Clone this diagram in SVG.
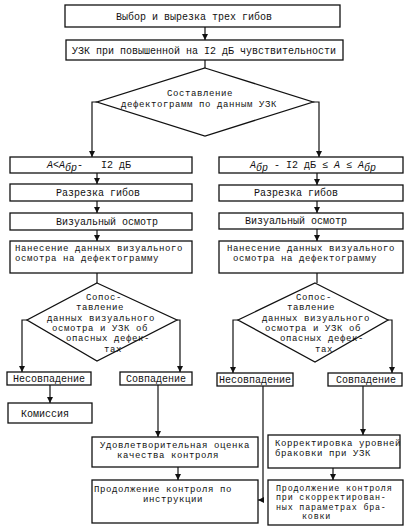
<svg xmlns="http://www.w3.org/2000/svg" width="409" height="529" viewBox="0 0 409 529">
<defs>
<marker id="ah" viewBox="0 0 8 8" refX="8" refY="4" markerWidth="6" markerHeight="6" orient="auto" markerUnits="userSpaceOnUse">
<path d="M0,0 L8,4 L0,8 z" fill="#111"/>
</marker>
<style>
rect, polygon { fill: #fff; stroke: #111; stroke-width: 1.3; }
.c path, .c line, .c polyline { fill: none; stroke: #111; stroke-width: 1.2; }
text { font-family: "Liberation Mono", "DejaVu Sans Mono", monospace; font-size: 10px; fill: #111; }
.s { font-size: 9px; letter-spacing: 0.6px; }
.t { font-size: 8.4px; letter-spacing: 0.8px; }
.m { text-anchor: middle; }
.i { font-style: italic; }
</style>
</defs>
<rect x="0" y="0" width="409" height="529" style="fill:#fff;stroke:none"/>

<g class="c" id="connectors">
<line x1="205" y1="27" x2="205" y2="40" marker-end="url(#ah)"/>
<line x1="205" y1="60" x2="205" y2="68"/>
<polyline points="97,102 92,102 92,157" marker-end="url(#ah)"/>
<polyline points="313,102 319,102 319,157" marker-end="url(#ah)"/>
<line x1="97" y1="173" x2="97" y2="184" marker-end="url(#ah)"/>
<line x1="97" y1="201" x2="97" y2="213" marker-end="url(#ah)"/>
<line x1="97" y1="230" x2="97" y2="241" marker-end="url(#ah)"/>
<line x1="97" y1="273" x2="97" y2="283"/>
<line x1="317" y1="173" x2="317" y2="185" marker-end="url(#ah)"/>
<line x1="317" y1="201" x2="317" y2="213" marker-end="url(#ah)"/>
<line x1="317" y1="229" x2="317" y2="241" marker-end="url(#ah)"/>
<line x1="317" y1="273" x2="317" y2="283"/>
<polyline points="27,320 22,320 22,372" marker-end="url(#ah)"/>
<polyline points="177,320 180,320 180,372" marker-end="url(#ah)"/>
<polyline points="238,320 233,320 233,373" marker-end="url(#ah)"/>
<polyline points="388,320 392,320 392,373" marker-end="url(#ah)"/>
<line x1="50" y1="385" x2="50" y2="403" marker-end="url(#ah)"/>
<line x1="158" y1="385" x2="158" y2="437" marker-end="url(#ah)"/>
<line x1="178" y1="467" x2="178" y2="480" marker-end="url(#ah)"/>
<polyline points="263,386 263,500 258,500" marker-end="url(#ah)"/>
<line x1="363" y1="386" x2="363" y2="435" marker-end="url(#ah)"/>
<line x1="333" y1="468" x2="333" y2="480" marker-end="url(#ah)"/>
</g>

<g id="n1"><rect x="65" y="5" width="275" height="22"/><text class="m" x="194" y="20">Выбор и вырезка трех гибов</text></g>
<g id="n2"><rect x="66" y="40" width="277" height="20"/><text class="m" x="204" y="54">УЗК при повышенной на I2 дБ чувствительности</text></g>
<g id="d1"><polygon points="205,68 313,102 205,136 97,102"/>
<text class="m s" x="200" y="96">Составление</text>
<text class="m s" x="199" y="107">дефектограмм по данным УЗК</text></g>

<g id="l1"><rect x="10" y="157" width="182" height="16"/>
<text x="47" y="168"><tspan class="i">A</tspan>&lt;<tspan class="i">A</tspan><tspan class="i" dy="3">бр</tspan><tspan dy="-3" xml:space="preserve">-   I2 дБ</tspan></text></g>
<g id="l2"><rect x="10" y="184" width="182" height="17"/><text class="m" x="98" y="196">Разрезка гибов</text></g>
<g id="l3"><rect x="10" y="213" width="182" height="17"/><text class="m" x="107" y="225">Визуальный осмотр</text></g>
<g id="l4"><rect x="10" y="241" width="182" height="32"/>
<text class="s" x="15" y="251">Нанесение данных визуального</text>
<text class="s" x="15" y="261">осмотра на дефектограмму</text></g>
<g id="ld"><polygon points="97,283 177,320 97,361 27,320"/>
<text class="m s" x="104" y="300">Сопос-</text>
<text class="m s" x="100" y="310.3">тавление</text>
<text class="m s" x="101" y="320.6">данных визуального</text>
<text class="m s" x="100" y="330.9">осмотра и УЗК об</text>
<text class="m s" x="108" y="341.2">опасных дефек-</text>
<text class="m s" x="113" y="351.5">тах</text></g>
<g id="l5"><rect x="7" y="372" width="84" height="13"/><text class="m" x="49" y="382">Несовпадение</text></g>
<g id="l6"><rect x="120" y="372" width="72" height="13"/><text class="m" x="156" y="382">Совпадение</text></g>
<g id="l7"><rect x="8" y="403" width="84" height="20"/><text class="m" x="45" y="417">Комиссия</text></g>
<g id="l8"><rect x="92" y="437" width="166" height="30"/>
<text class="s" x="100" y="448">Удовлетворительная оценка</text>
<text class="s" x="117" y="458.3">качества контроля</text></g>
<g id="l9"><rect x="92" y="480" width="166" height="43"/>
<text class="s" x="94" y="492">Продолжение контроля по</text>
<text class="s" x="143" y="502.3">инструкции</text></g>

<g id="r1"><rect x="219" y="157" width="184" height="16"/>
<text x="250" y="168"><tspan class="i">A</tspan><tspan class="i" dy="3">бр</tspan><tspan dy="-3" xml:space="preserve"> - I2 дБ ≤ </tspan><tspan class="i">A</tspan> ≤ <tspan class="i">A</tspan><tspan class="i" dy="3">бр</tspan></text></g>
<g id="r2"><rect x="219" y="185" width="184" height="16"/><text class="m" x="296" y="196">Разрезка гибов</text></g>
<g id="r3"><rect x="219" y="213" width="184" height="16"/><text class="m" x="296" y="224">Визуальный осмотр</text></g>
<g id="r4"><rect x="219" y="241" width="184" height="32"/>
<text class="s" x="227" y="251">Нанесение данных визуального</text>
<text class="s" x="233" y="261.3">осмотра на дефектограмму</text></g>
<g id="rd"><polygon points="315,283 388,320 315,362 238,320"/>
<text class="m s" x="314" y="300">Сопос-</text>
<text class="m s" x="311" y="310.3">тавление</text>
<text class="m s" x="316" y="320.6">данных визуального</text>
<text class="m s" x="313" y="330.9">осмотра и УЗК об</text>
<text class="m s" x="322" y="341.2">опасных дефек-</text>
<text class="m s" x="324" y="351.5">тах</text></g>
<g id="r5"><rect x="217" y="373" width="76" height="13"/><text class="m" x="255" y="383">Несовпадение</text></g>
<g id="r6"><rect x="328" y="373" width="74" height="13"/><text class="m" x="366" y="383">Совпадение</text></g>
<g id="r7"><rect x="268" y="435" width="132" height="33"/>
<text class="s" x="275" y="446">Корректировка уровней</text>
<text class="s" x="275" y="456.3">браковки при УЗК</text></g>
<g id="r8"><rect x="268" y="480" width="135" height="45"/>
<text class="t" x="276" y="490.5">Продолжение контроля</text>
<text class="t" x="276" y="500">при скорректирован-</text>
<text class="t" x="276" y="509.5">ных параметрах бра-</text>
<text class="t" x="302" y="519">ковки</text></g>
</svg>
